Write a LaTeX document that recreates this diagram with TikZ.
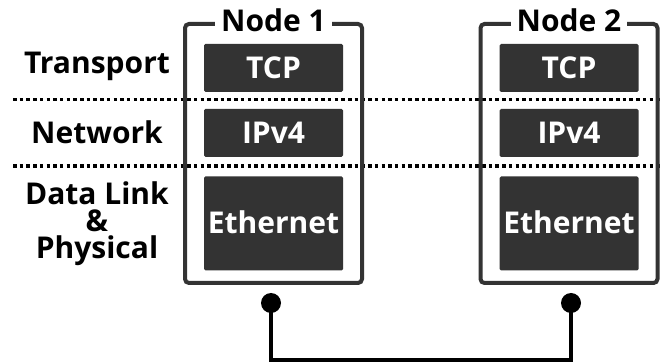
\documentclass[tikz,border=0pt]{standalone}
\usepackage{fontspec}
\setmainfont{Open Sans}
\definecolor{boxgray}{HTML}{333333}
\tikzset{
  bigfont/.style={font=\fontsize{30}{27}\selectfont\bfseries},
  lbl/.style={bigfont, text=black, inner sep=0pt},
  outerbox/.style={draw=boxgray, line width=4pt, rounded corners=4pt, minimum width=177pt, minimum height=259pt, inner sep=0pt},
  nodetitle/.style={bigfont, fill=white, inner xsep=6pt, inner ysep=2pt, anchor=base},
  layerbox/.style={fill=boxgray, rounded corners=1.5pt, minimum width=139pt, text=white, inner sep=0pt,
    bigfont, text height=21pt, text depth=0pt},
  sep/.style={line width=3.5pt, dash pattern=on 3.5pt off 3.2pt},
  dotend/.style={circle, fill=black, minimum size=20pt, inner sep=0pt},
  link/.style={line width=4pt, black}
}
\begin{document}
\begin{tikzpicture}[x=1pt,y=-1pt]
\useasboundingbox (0,0) rectangle (662,363);
% separators
\coordinate (s1a) at (13,99.5);
\coordinate (s1b) at (662,99.5);
\coordinate (s2a) at (13,166);
\coordinate (s2b) at (662,166);
\draw[sep] (s1a) -- (s1b);
\draw[sep] (s2a) -- (s2b);
% outer boxes
\node[outerbox] (n1) at (273.5,153.5) {};
\node[outerbox] (n2) at (569,153.5) {};
\node[nodetitle] (t1) at (273.5,31.5) {Node 1};
\node[nodetitle] (t2) at (569,31.5) {Node 2};
% layer boxes
\node[layerbox, minimum height=48pt] (tcp1) at (273.5,68) {TCP};
\node[layerbox, minimum height=48pt] (ip1) at (273.5,133) {IPv4};
\node[layerbox, minimum height=94pt] (eth1) at (273.5,223.5) {Ethernet};
\node[layerbox, minimum height=48pt] (tcp2) at (569,68) {TCP};
\node[layerbox, minimum height=48pt] (ip2) at (569,133) {IPv4};
\node[layerbox, minimum height=94pt] (eth2) at (569,223.5) {Ethernet};
% left labels
\node[lbl, anchor=base] (ltr) at (97,74) {Transport};
\node[lbl, anchor=base] (lnw) at (97,144) {Network};
\node[lbl, anchor=north, align=center] (ldl) at (97,182) {Data Link\\\&\\Physical};
% link
\node[dotend] (c1) at (271,303) {};
\node[dotend] (c2) at (571,303) {};
\coordinate (b1) at (271,360.5);
\draw[link] (c1.center) -- (b1) -| (c2.center);
\end{tikzpicture}
\end{document}
